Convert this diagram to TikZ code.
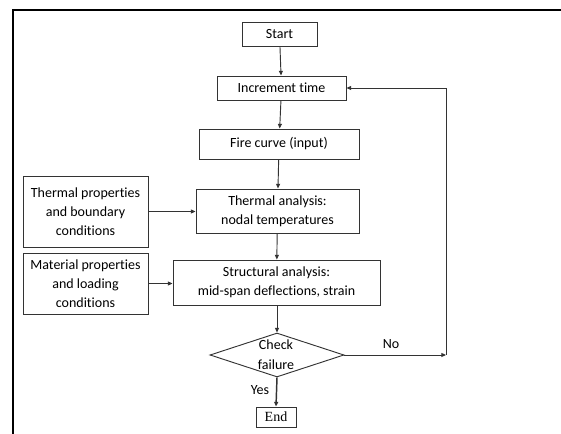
\documentclass[tikz,border=0pt]{standalone}
\usepackage{fontspec}
\setmainfont{Carlito}[Ligatures=NoCommon]
\newfontfamily\serifend{Liberation Serif}
\usetikzlibrary{arrows.meta,shapes.geometric}
\begin{document}
\begin{tikzpicture}[x=0.75pt,y=-0.75pt,
  box/.style={draw=black!80,line width=0.7pt,inner sep=0pt,align=center,font=\fontsize{10.5}{14.25}\selectfont},
  arr/.style={draw=black!80,line width=0.7pt,-{Triangle[length=3.5pt,width=3pt]}},
  lbl/.style={inner sep=0pt,font=\fontsize{10.5}{14.25}\selectfont}]
\useasboundingbox (0,0) rectangle (561,434);
\draw[line width=1.6pt] (13,434) -- (13,10) -- (561,10);
\node[box,minimum width=56.25pt,minimum height=18pt] (start) at (279.5,34) {Start};
\node[box,minimum width=96.75pt,minimum height=18pt] (inc) at (281.5,88) {Increment time};
\node[box,minimum width=120pt,minimum height=22.5pt] (fire) at (279,144) {Fire curve (input)};
\node[box,minimum width=122.25pt,minimum height=33pt] (therm) at (277.5,211) {Thermal analysis:\\nodal temperatures};
\node[box,minimum width=93.75pt,minimum height=53.25pt] (tprop) at (85.5,211.5) {Thermal properties\\and boundary\\conditions};
\node[box,minimum width=93.75pt,minimum height=45.75pt] (mprop) at (85.5,283.5) {Material properties\\and loading\\conditions};
\node[box,minimum width=155.25pt,minimum height=33.75pt] (struct) at (276.5,282.5) {Structural analysis:\\mid-span deflections, strain};
\node[diamond,draw=black!80,line width=0.7pt,inner sep=0pt,minimum width=100.5pt,minimum height=33pt] (chk) at (277,355) {};
\node[lbl,align=center,font=\fontsize{10.5}{15}\selectfont] (chktxt) at (276,355) {Check\\failure};
\node[box,minimum width=30pt,minimum height=15pt,font=\serifend\fontsize{10.5}{13}\selectfont] (end) at (276,417) {End};
\coordinate (corner) at (446,355);
\coordinate (top) at (446,88);
\draw[arr] (start) -- (inc);
\draw[arr] (inc) -- (fire);
\draw[arr] (fire) -- (therm);
\draw[arr] (therm) -- (struct);
\draw[arr] (tprop.east) -- (therm.west |- tprop.east);
\draw[arr] (mprop.east) -- (struct.west |- mprop.east);
\draw[arr] (struct.south -| chk.north) -- (chk.north);
\draw[arr] (chk.east) -- (corner);
\draw[arr] (corner) -- (top) -- (inc.east);
\draw[arr,line width=1.1pt] (chk.south) -- (end.north);
\node[lbl] (no) at (391,344) {No};
\node[lbl] (yes) at (260,390) {Yes};
\end{tikzpicture}
\end{document}
